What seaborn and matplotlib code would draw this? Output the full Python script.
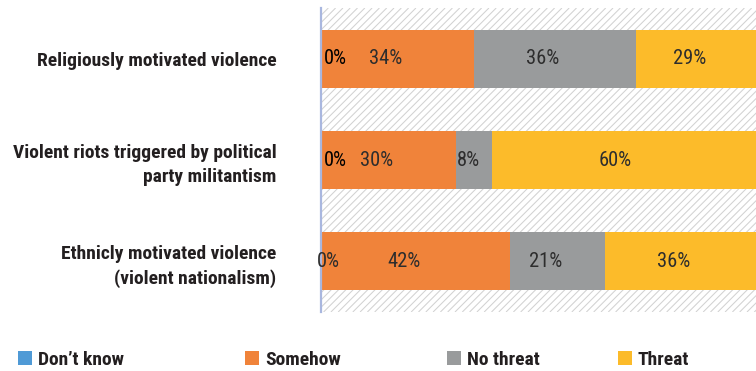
import matplotlib
matplotlib.use("Agg")
import matplotlib.pyplot as plt
from matplotlib import font_manager as fm
from matplotlib.patches import Patch
from matplotlib.collections import LineCollection
import numpy as np
import pandas as pd
import seaborn as sns

# Survey categories and shares (%) per answer
categories = [
    "Religiously motivated violence",
    "Violent riots triggered by political\nparty militantism",
    "Ethnicly motivated violence\n(violent nationalism)",
]
series = ["Don\u2019t know", "Somehow", "No threat", "Threat"]
dont_know = [0, 0, 0]
somehow = [34, 30, 42]
no_threat = [36, 8, 21]
threat = [29, 60, 36]
colors = ["#4f9ad6", "#f0833a", "#999b9c", "#fcbb2a"]

sns.set_theme(style="white")

# pick a narrow sans face if one is installed
fonts = fm.fontManager.ttflist
names = {f.name for f in fonts}
family, stretch = "Roboto", "normal"
for cand in ["Liberation Sans Narrow", "Roboto Condensed", "Noto Sans Condensed",
             "Open Sans Condensed"]:
    if cand in names:
        family = cand
        break
else:
    if any(f.name == "DejaVu Sans" and f.stretch == "condensed" for f in fonts):
        family, stretch = "DejaVu Sans", "condensed"
    elif any(f.name == "Noto Sans" and f.stretch == "condensed" for f in fonts):
        family, stretch = "Noto Sans", "condensed"
FONT = [family, "DejaVu Sans"]
plt.rcParams["font.family"] = FONT
plt.rcParams["font.stretch"] = stretch

df = pd.DataFrame({
    "category": categories,
    series[0]: dont_know,
    series[1]: somehow,
    series[2]: no_threat,
    series[3]: threat,
})
cum = df[series].cumsum(axis=1)

W, H = 756, 371
fig = plt.figure(figsize=(W / 100, H / 100), dpi=100)
renderer = fig.canvas.get_renderer()


def fit_size(text, target_px, weight="normal", base=12.0):
    t = fig.text(0, 0, text, fontsize=base, fontweight=weight)
    w = t.get_window_extent(renderer).width
    t.remove()
    return base * target_px / w


cat_size = min(14.0, fit_size(categories[0], 241, "bold"))
val_size = min(15.0, fit_size("34%", 33))
leg_size = min(14.0, fit_size(series[0], 89, "bold"))

ax_w, ax_h = W - 321, 304
ax = fig.add_axes([321 / W, 59 / H, ax_w / W, ax_h / H])

# fine diagonal hatching behind the bars (spacing in pixels)
step = 7.3
offsets = np.arange(-ax_h, ax_w + step, step)
segs = [[(c / ax_w, 0), ((c + ax_h) / ax_w, 1)] for c in offsets]
ax.add_collection(LineCollection(segs, transform=ax.transAxes, colors="#d2d2d2",
                                 linewidths=0.75, zorder=0))

# stacked bars: draw cumulative totals from the last series to the first
for name, color in reversed(list(zip(series, colors))):
    sns.barplot(x=cum[name], y=df["category"], orient="h", color=color,
                saturation=1, width=0.575, linewidth=0, ax=ax, zorder=2)

ax.set_xlim(0, ax_w / 4.5)
ax.set_ylim(2.5, -0.5)
ax.set_xlabel("")
ax.set_ylabel("")
ax.set_xticks([])
ax.set_yticks(range(len(categories)))
ax.set_yticklabels(categories, fontweight="bold", fontsize=cat_size,
                   color="#231f20", linespacing=1.45)
ax.tick_params(axis="y", length=0, pad=32)
for side in ["top", "right", "bottom"]:
    ax.spines[side].set_visible(False)
ax.spines["left"].set_color("#a9b7df")
ax.spines["left"].set_linewidth(1.6)
ax.spines["left"].set_zorder(5)

# value labels
zero_shift = [3, 3, -4]
for i in range(len(categories)):
    for name in series:
        v = df.loc[i, name]
        end = cum.loc[i, name]
        start = end - v
        if v == 0:
            ax.annotate(f"{v}%", (start, i), xytext=(zero_shift[i], 0),
                        textcoords="offset pixels", ha="left", va="center",
                        fontsize=val_size, color="#000000" if i < 2 else "#2d2d2d",
                        zorder=6)
        elif v < 10:
            ax.annotate(f"{v}%", (start, i), xytext=(1, 0),
                        textcoords="offset pixels", ha="left", va="center",
                        fontsize=val_size, color="#2d2d2d", zorder=6)
        else:
            ax.annotate(f"{v}%", (start + v / 2, i), xytext=(-12, 0),
                        textcoords="offset pixels", ha="center", va="center",
                        fontsize=val_size, color="#2d2d2d", zorder=6)

# legend entries along the bottom
legend_x = [18, 245, 447, 618]
em = leg_size * 100 / 72
for name, color, lx in zip(series, colors, legend_x):
    fig.legend(handles=[Patch(facecolor=color, edgecolor="none")], labels=[name],
               loc="center left", bbox_to_anchor=(lx / W, 1 - 360 / H),
               frameon=False, prop={"family": FONT, "weight": "bold", "size": leg_size},
               handlelength=14 / em, handleheight=14 / em, handletextpad=6 / em,
               borderpad=0, borderaxespad=0, labelcolor="#231f20")

fig.savefig("out.png", dpi=100)
